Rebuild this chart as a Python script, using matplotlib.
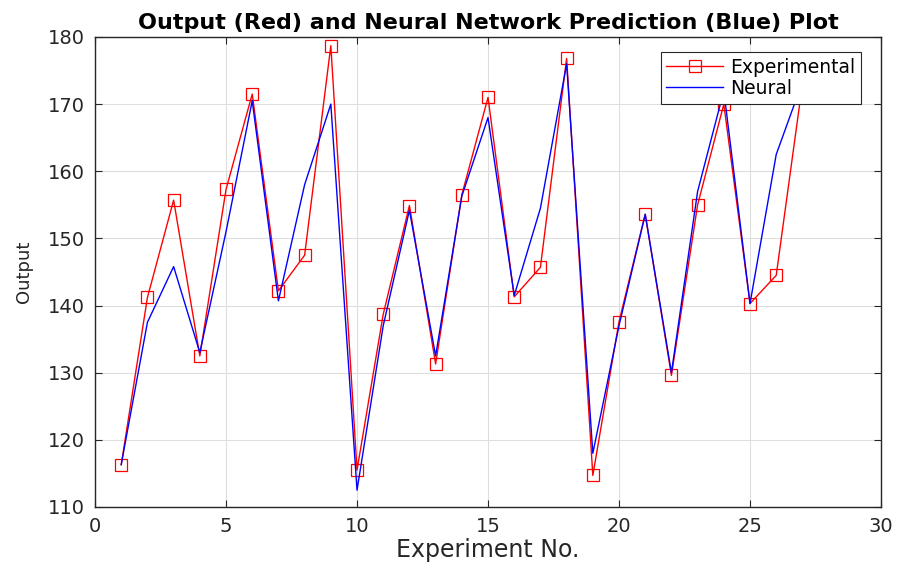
import matplotlib
matplotlib.use('Agg')
import matplotlib.pyplot as plt
import numpy as np

plt.rcParams['font.family'] = ['DejaVu Sans']

experiment = np.arange(1, 28)
experimental = [116.3, 141.2, 155.7, 132.5, 157.3, 171.5, 142.2, 147.5, 178.7,
                115.5, 138.7, 154.9, 131.3, 156.5, 171.0, 141.3, 145.7, 176.8,
                114.7, 137.6, 153.6, 129.6, 155.0, 170.0, 140.3, 144.5, 173.0]
neural = [116.3, 137.5, 145.8, 133.0, 151.0, 170.5, 140.7, 158.0, 170.0,
          112.5, 137.0, 154.2, 132.5, 156.3, 168.0, 141.5, 154.5, 176.0,
          118.0, 137.0, 153.6, 130.0, 157.0, 172.0, 140.3, 162.5, 173.3]

fig = plt.figure(figsize=(8.99, 5.69), dpi=100)
ax = fig.add_axes([0.1057, 0.109, 0.8743, 0.826])

ax.plot(experiment, experimental, color='red', linewidth=1.0, marker='s',
        markersize=8, markerfacecolor='none', markeredgecolor='red',
        markeredgewidth=0.9, label='Experimental')
ax.plot(experiment, neural, color='blue', linewidth=1.0, label='Neural')

ax.set_xlim(0, 30)
ax.set_ylim(110, 180)
ax.set_xticks(np.arange(0, 31, 5))
ax.set_yticks(np.arange(110, 181, 10))
ax.grid(True, color='#dedede', linewidth=0.8)
ax.set_axisbelow(True)
ax.tick_params(direction='in', labelsize=14, length=5, top=True, right=True,
               colors='#262626')
ax.tick_params(axis='x', pad=7)
ax.tick_params(axis='y', pad=7)
for sp in ax.spines.values():
    sp.set_color('#262626')
    sp.set_linewidth(1.0)

ax.set_xlabel('Experiment No.', fontsize=17, color='#262626', labelpad=2)
ax.set_ylabel('Output', fontsize=13, color='#262626', labelpad=11)
ax.set_title('Output (Red) and Neural Network Prediction (Blue) Plot',
             fontsize=16, fontweight='bold', pad=6)

leg = ax.legend(loc='upper right', bbox_to_anchor=(0.9745, 0.968), fontsize=13.5,
                fancybox=False, framealpha=1, edgecolor='#262626',
                borderaxespad=0, handlelength=3.0, handletextpad=0.4,
                borderpad=0.3, labelspacing=0.12)
leg.get_frame().set_linewidth(0.8)

fig.savefig('out.png', dpi=100)
